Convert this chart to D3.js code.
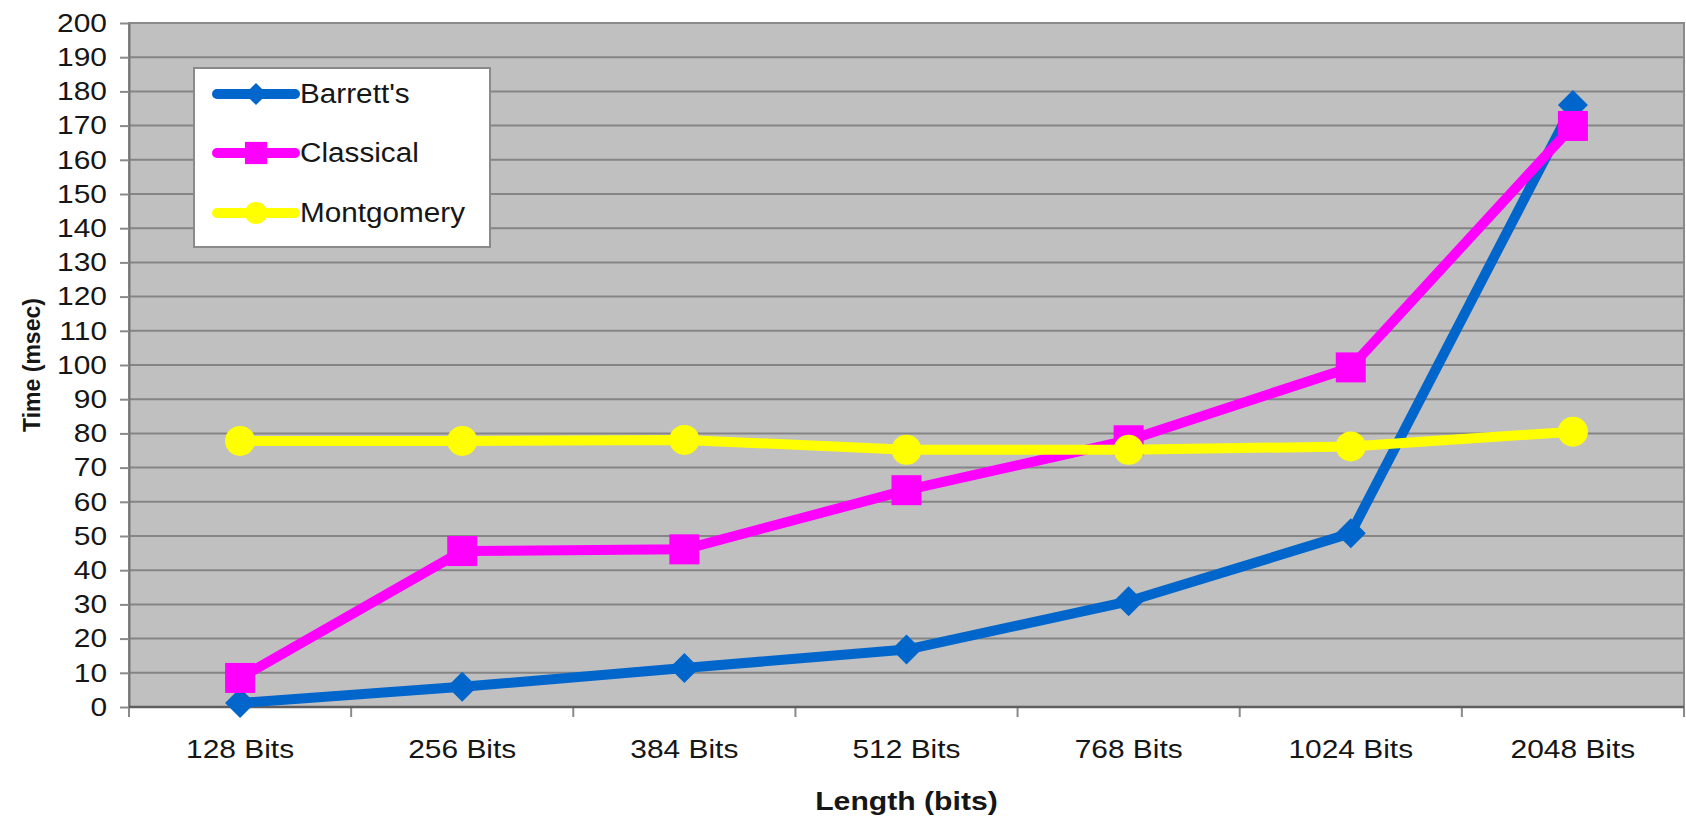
<!DOCTYPE html>
<html>
<head>
<meta charset="utf-8">
<script src="https://cdn.jsdelivr.net/npm/d3@7"></script>
<style>
  body { margin: 0; background: #fff; }
  svg { display: block; }
  text { font-family: "Liberation Sans", Arial, Helvetica, sans-serif; fill: #161616; }
</style>
</head>
<body>
<svg id="chart" width="1686" height="820"></svg>
<script>
// Modular reduction timings by key length
const categories = ["128 Bits", "256 Bits", "384 Bits", "512 Bits", "768 Bits", "1024 Bits", "2048 Bits"];
const barrett    = [1.2, 5.9, 11.4, 16.8, 30.9, 50.8, 176];
const classical  = [8.5, 45.6, 46.1, 63.4, 78.0, 99.3, 169.9];
const montgomery = [77.8, 77.8, 78.1, 75.2, 75.2, 76.2, 80.5];
const seriesNames = ["Barrett's", "Classical", "Montgomery"];
const yTicks = d3.range(0, 201, 10);
const xTitle = "Length (bits)";
const yTitle = "Time (msec)";

const W = 1686, H = 820;
const margin = { top: 23, right: 2, bottom: 113, left: 129 };
const x0 = margin.left, x1 = W - margin.right;
const yBottom = H - margin.bottom, yTop = margin.top;

const svg = d3.select("#chart");

const xBand = d3.scaleBand().domain(categories).range([x0, x1]);
const xc = c => xBand(c) + xBand.bandwidth() / 2;
const y = d3.scaleLinear().domain([0, 200]).range([yBottom, yTop]);

// widen glyphs horizontally (the chart's lettering is slightly stretched)
function stretch(sel, k) {
  sel.each(function () {
    const len = this.getComputedTextLength();
    d3.select(this).attr("textLength", len * k).attr("lengthAdjust", "spacingAndGlyphs");
  });
}

// plot area
svg.append("rect")
  .attr("x", x0).attr("y", yTop)
  .attr("width", x1 - x0).attr("height", yBottom - yTop)
  .attr("fill", "#c0c0c0");

// horizontal gridlines
svg.append("g").selectAll("line").data(yTicks).join("line")
  .attr("x1", x0).attr("x2", x1)
  .attr("y1", d => y(d)).attr("y2", d => y(d))
  .attr("stroke", "#858585").attr("stroke-width", 2);

// plot border
svg.append("rect")
  .attr("x", x0).attr("y", yTop)
  .attr("width", x1 - x0).attr("height", yBottom - yTop)
  .attr("fill", "none").attr("stroke", "#8a8a8a").attr("stroke-width", 2);

// y axis
const yAxis = svg.append("g")
  .attr("transform", `translate(${x0},0)`)
  .call(d3.axisLeft(y).tickValues(yTicks).tickSizeInner(9).tickSizeOuter(0).tickPadding(13));
yAxis.select(".domain").attr("stroke", "#777").attr("stroke-width", 2);
yAxis.selectAll(".tick line").attr("stroke", "#8a8a8a").attr("stroke-width", 2);
yAxis.selectAll(".tick text")
  .attr("font-size", 26).attr("fill", "#161616")
  .call(stretch, 1.15);

// x axis (labels centred in each category, ticks on the category boundaries)
const xAxis = svg.append("g")
  .attr("transform", `translate(0,${yBottom})`)
  .call(d3.axisBottom(xBand).tickSize(0));
xAxis.select(".domain").remove();
xAxis.selectAll(".tick text")
  .attr("font-size", 26).attr("fill", "#161616")
  .attr("y", 42).attr("dy", "0.35em")
  .call(stretch, 1.15);

const boundaries = categories.map(c => xBand(c)).concat([xBand.range()[1]]);
svg.append("g").selectAll("line").data(boundaries).join("line")
  .attr("x1", d => d).attr("x2", d => d)
  .attr("y1", yBottom).attr("y2", yBottom + 10)
  .attr("stroke", "#8a8a8a").attr("stroke-width", 2);

svg.append("line")
  .attr("x1", x0).attr("x2", x1)
  .attr("y1", yBottom).attr("y2", yBottom)
  .attr("stroke", "#5e5e5e").attr("stroke-width", 2.5);

// axis titles
svg.append("text")
  .attr("x", (x0 + x1) / 2).attr("y", 801).attr("dy", "0.35em")
  .attr("text-anchor", "middle").attr("font-size", 26).attr("font-weight", "bold")
  .text(xTitle)
  .call(stretch, 1.16);

svg.append("text")
  .attr("transform", `translate(32,${(yTop + yBottom) / 2}) rotate(-90)`)
  .attr("dy", "0.35em")
  .attr("text-anchor", "middle").attr("font-size", 23).attr("font-weight", "bold")
  .text(yTitle);

// series
const series = [
  { name: seriesNames[0], values: barrett,    color: "#0066cc", shape: "diamond" },
  { name: seriesNames[1], values: classical,  color: "#ff00ff", shape: "square" },
  { name: seriesNames[2], values: montgomery, color: "#ffff00", shape: "circle" }
];

function markerPath(shape, scale) {
  if (shape === "diamond") return d3.symbol(d3.symbolSquare, 450 * scale * scale)();
  if (shape === "square") return d3.symbol(d3.symbolSquare, 900 * scale * scale)();
  return d3.symbol(d3.symbolCircle, Math.PI * 15 * 15 * scale * scale)();
}
function markerRotate(shape) { return shape === "diamond" ? " rotate(45)" : ""; }

const line = d3.line()
  .x((d, i) => xc(categories[i]))
  .y(d => y(d));

series.forEach(s => {
  const g = svg.append("g");
  g.append("path")
    .attr("d", line(s.values))
    .attr("fill", "none").attr("stroke", s.color)
    .attr("stroke-width", 10).attr("stroke-linejoin", "round");
  g.selectAll("path.marker").data(s.values).join("path")
    .attr("class", "marker")
    .attr("d", markerPath(s.shape, 1))
    .attr("transform", (d, i) => `translate(${xc(categories[i])},${y(d)})${markerRotate(s.shape)}`)
    .attr("fill", s.color);
});

// legend
const legend = svg.append("g");
legend.append("rect")
  .attr("x", 194).attr("y", 68).attr("width", 296).attr("height", 179)
  .attr("fill", "#fff").attr("stroke", "#8a8a8a").attr("stroke-width", 2);
const rowY = [94, 153, 213];
series.forEach((s, i) => {
  const g = legend.append("g").attr("transform", `translate(0,${rowY[i]})`);
  g.append("line")
    .attr("x1", 217).attr("x2", 295).attr("y1", 0).attr("y2", 0)
    .attr("stroke", s.color).attr("stroke-width", 10).attr("stroke-linecap", "round");
  g.append("path")
    .attr("d", markerPath(s.shape, 0.74))
    .attr("transform", `translate(256,0)${markerRotate(s.shape)}`)
    .attr("fill", s.color);
  g.append("text")
    .attr("x", 300).attr("dy", "0.35em")
    .attr("font-size", 27)
    .text(s.name)
    .call(stretch, 1.1);
});
</script>
</body>
</html>
